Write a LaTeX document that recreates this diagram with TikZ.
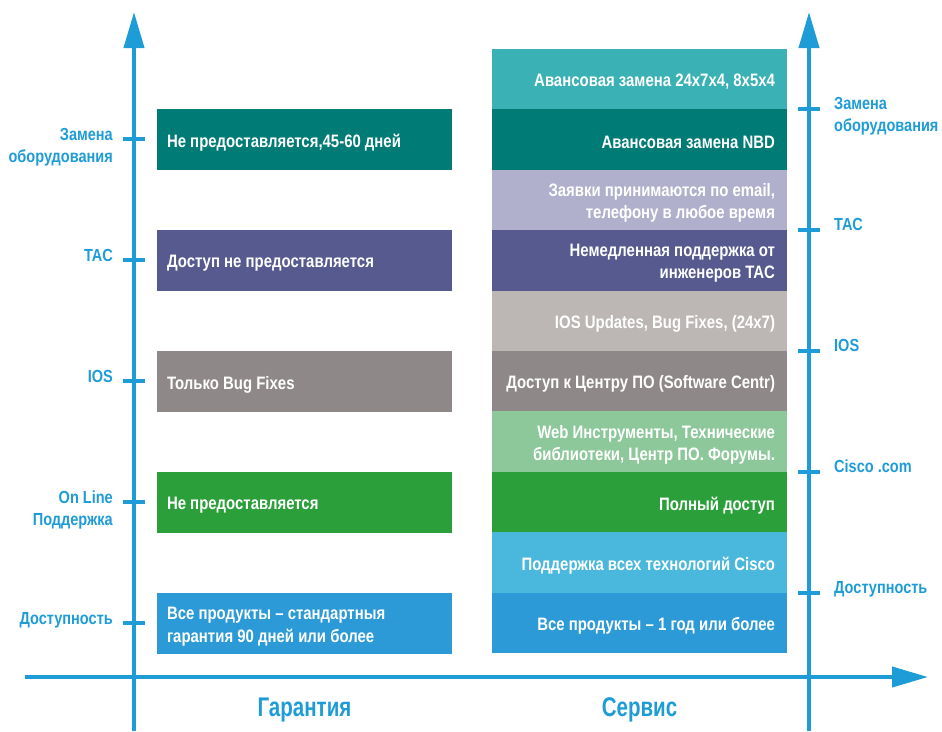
\documentclass[tikz,border=0pt]{standalone}
\usepackage{fontspec}
\setmainfont[FakeStretch=0.83]{Liberation Sans}
\newfontfamily\titlefont[FakeStretch=0.76]{Liberation Sans}
\usetikzlibrary{arrows.meta,positioning}
\definecolor{axisblue}{RGB}{30,156,215}
\definecolor{tealA}{RGB}{58,177,180}
\definecolor{tealB}{RGB}{0,123,118}
\definecolor{lilacA}{RGB}{176,176,204}
\definecolor{lilacB}{RGB}{86,90,143}
\definecolor{greyA}{RGB}{188,183,181}
\definecolor{greyB}{RGB}{143,136,136}
\definecolor{greenA}{RGB}{141,200,154}
\definecolor{greenB}{RGB}{43,160,58}
\definecolor{blueA}{RGB}{74,184,220}
\definecolor{blueB}{RGB}{44,154,214}
\tikzset{bar/.style={rectangle,inner sep=0pt,minimum width=295pt,minimum height=60.6pt},
 bartext/.style={text=white,font=\bfseries\fontsize{18}{22.5}\selectfont,inner sep=0pt,yshift=-3pt},
 axislabel/.style={text=axisblue,font=\bfseries\fontsize{17.5}{22}\selectfont,inner sep=0pt},
 bottomlabel/.style={text=axisblue,font=\titlefont\bfseries\fontsize{27}{30}\selectfont,inner sep=0pt},
 tickmark/.style={draw=axisblue,line width=3.4pt},
 axisline/.style={draw=axisblue,line width=4pt,-{Triangle[length=36pt,width=20pt]}},
 }

\begin{document}
\begin{tikzpicture}[x=1pt,y=-1pt]
        \useasboundingbox (0,0) rectangle (942,731);
        \node[bar, fill=tealB, anchor=north] (gRepl) at (304.5,109) {};
        \node[bar, fill=lilacB, anchor=north] (gTac) at (304.5,230) {};
        \node[bar, fill=greyB, anchor=north] (gIos) at (304.5,351) {};
        \node[bar, fill=greenB, anchor=north] (gWeb) at (304.5,472) {};
        \node[bar, fill=blueB, anchor=north] (gAvail) at (304.5,593) {};
        \node[bartext, anchor=west, align=left] at ([xshift=10pt]gRepl.west) {Не предоставляется,45-60 дней};
        \node[bartext, anchor=west, align=left] at ([xshift=10pt]gTac.west) {Доступ не предоставляется};
        \node[bartext, anchor=west, align=left] at ([xshift=10pt]gIos.west) {Только Bug Fixes};
        \node[bartext, anchor=west, align=left] at ([xshift=10pt]gWeb.west) {Не предоставляется};
        \node[bartext, anchor=west, align=left] at ([xshift=10pt]gAvail.west) {Все продукты – стандартныя\\гарантия 90 дней или более};
        \node[bar, fill=tealA, anchor=north] (sRepl1) at (639.5,48.5) {};
        \node[bar, fill=tealB, anchor=north] (sRepl2) at (639.5,109) {};
        \node[bar, fill=lilacA, anchor=north] (sTac1) at (639.5,169.4) {};
        \node[bar, fill=lilacB, anchor=north] (sTac2) at (639.5,229.9) {};
        \node[bar, fill=greyA, anchor=north] (sIos1) at (639.5,290.3) {};
        \node[bar, fill=greyB, anchor=north] (sIos2) at (639.5,350.8) {};
        \node[bar, fill=greenA, anchor=north] (sWeb1) at (639.5,411.2) {};
        \node[bar, fill=greenB, anchor=north] (sWeb2) at (639.5,471.7) {};
        \node[bar, fill=blueA, anchor=north] (sAvail1) at (639.5,532.1) {};
        \node[bar, fill=blueB, anchor=north] (sAvail2) at (639.5,592.6) {};
        \node[bartext, anchor=east, align=right] at ([xshift=-12pt]sRepl1.east) {Авансовая замена 24x7x4, 8x5x4};
        \node[bartext, anchor=east, align=right] at ([xshift=-12pt]sRepl2.east) {Авансовая замена NBD};
        \node[bartext, anchor=east, align=right] at ([xshift=-12pt]sTac1.east) {Заявки принимаются по email,\\телефону в любое время};
        \node[bartext, anchor=east, align=right] at ([xshift=-12pt]sTac2.east) {Немедленная поддержка от\\инженеров TAC};
        \node[bartext, anchor=east, align=right] at ([xshift=-12pt]sIos1.east) {IOS Updates, Bug Fixes, (24x7)};
        \node[bartext, anchor=east, align=right] at ([xshift=-12pt]sIos2.east) {Доступ к Центру ПО (Software Centr)};
        \node[bartext, anchor=east, align=right] at ([xshift=-12pt]sWeb1.east) {Web Инструменты, Технические\\библиотеки, Центр ПО. Форумы.};
        \node[bartext, anchor=east, align=right] at ([xshift=-12pt]sWeb2.east) {Полный доступ};
        \node[bartext, anchor=east, align=right] at ([xshift=-12pt]sAvail1.east) {Поддержка всех технологий Cisco};
        \node[bartext, anchor=east, align=right] at ([xshift=-12pt]sAvail2.east) {Все продукты – 1 год или более};
        \draw[axisline] (134,731) -- (134,12);
        \draw[axisline] (809,731) -- (809,12);
        \draw[axisline] (25,677) -- (928,677);
        \draw[tickmark] (123,139) -- (145,139);
        \draw[tickmark] (123,260) -- (145,260);
        \draw[tickmark] (123,381) -- (145,381);
        \draw[tickmark] (123,502) -- (145,502);
        \draw[tickmark] (123,623) -- (145,623);
        \draw[tickmark] (798,109) -- (820,109);
        \draw[tickmark] (798,230) -- (820,230);
        \draw[tickmark] (798,351) -- (820,351);
        \draw[tickmark] (798,472) -- (820,472);
        \draw[tickmark] (798,593) -- (820,593);
        \node[axislabel, anchor=base east, align=right] (lRepl) at (113,162.5) {Замена\\оборудования};
        \node[axislabel, anchor=base east] (lTac) at (113,261.5) {TAC};
        \node[axislabel, anchor=base east] (lIos) at (113,382.5) {IOS};
        \node[axislabel, anchor=base east, align=right] (lWeb) at (113,525.5) {On Line\\Поддержка};
        \node[axislabel, anchor=base east] (lAvail) at (113,624.5) {Доступность};
        \node[axislabel, anchor=base west, align=left] (rRepl) at (834,131.5) {Замена\\оборудования};
        \node[axislabel, anchor=base west] (rTac) at (834,230) {TAC};
        \node[axislabel, anchor=base west] (rIos) at (834,351) {IOS};
        \node[axislabel, anchor=base west] (rWeb) at (834,472) {Cisco .com};
        \node[axislabel, anchor=base west] (rAvail) at (834,593) {Доступность};
        \node[bottomlabel, anchor=base] (warranty) at (304.5,716) {Гарантия};
        \node[bottomlabel, anchor=base] (service) at (639.5,716) {Сервис};
    \end{tikzpicture}
\end{document}
